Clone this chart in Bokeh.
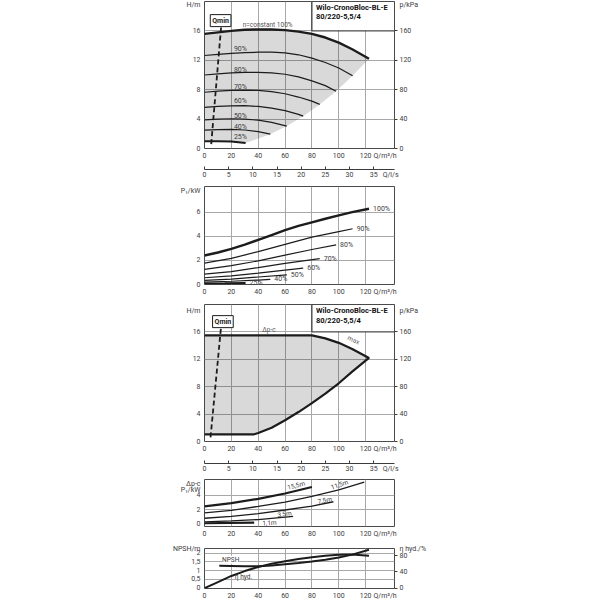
import math
from bokeh.plotting import figure
from bokeh.models import Range1d, LinearAxis, FixedTicker, Label, BoxAnnotation
from bokeh.layouts import column
from bokeh.embed import file_html
from bokeh.resources import INLINE

# ------------------------------------------------------------------ data
FLOW_TICKS = [0, 20, 40, 60, 80, 100, 120]          # Q / m³/h
FLOW_LS_TICKS = [0, 5, 10, 15, 20, 25, 30, 35]      # Q / l/s
HEAD_TICKS = [0, 4, 8, 12, 16]                      # H / m
KPA_TICKS = [0, 40, 80, 120, 160]                   # p / kPa
POWER_TICKS = [0, 2, 4, 6]                          # P1 / kW
DP_POWER_TICKS = [0, 2, 4]
NPSH_TICKS = [0, 0.5, 1, 1.5, 2]
NPSH_TICK_LABELS = ["0", "0,5", "1", "1,5", "2"]
ETA_TICKS = [0, 40, 80]

SPEED_LABELS = ["100%", "90%", "80%", "70%", "60%", "50%", "40%", "25%"]

HEAD_Q = [
    [0, 10, 20, 30, 40, 50, 60, 70, 80, 90, 100, 110, 122.5],
    [0, 10, 20, 30, 40, 50, 60, 70, 80, 90, 100, 110.3],
    [0, 10, 20, 30, 40, 50, 60, 70, 80, 90, 98],
    [0, 10, 20, 30, 40, 50, 60, 70, 80, 85.8],
    [0, 10, 20, 30, 40, 50, 60, 70, 73.5],
    [0, 10, 20, 30, 40, 50, 61.3],
    [0, 10, 20, 30, 40, 49],
    [0, 10, 20, 30.6],
]
HEAD_H = [
    [15.6, 15.8, 16.0, 16.15, 16.2, 16.2, 16.1, 15.9, 15.6, 15.1, 14.4, 13.5, 12.2],
    [12.65, 12.8, 12.95, 13.05, 13.1, 13.1, 13.0, 12.75, 12.3, 11.7, 10.95, 9.9],
    [10.0, 10.15, 10.3, 10.35, 10.35, 10.3, 10.1, 9.75, 9.2, 8.55, 7.8],
    [7.65, 7.8, 7.9, 7.95, 7.9, 7.75, 7.45, 7.0, 6.45, 6.0],
    [5.6, 5.72, 5.8, 5.82, 5.72, 5.5, 5.15, 4.65, 4.4],
    [3.9, 4.0, 4.05, 4.0, 3.85, 3.55, 3.05],
    [2.5, 2.57, 2.6, 2.52, 2.3, 1.95],
    [0.98, 1.0, 0.95, 0.76],
]
LIMIT_Q = [122.5, 110.3, 98, 85.8, 73.5, 61.3, 49, 30.6]
LIMIT_H = [12.2, 9.9, 7.8, 6.0, 4.4, 3.05, 1.95, 0.76]

POWER_Q = [
    [0, 10, 20, 30, 40, 50, 60, 70, 80, 90, 100, 110, 122.5],
    [0, 20, 40, 60, 80, 100, 110.3],
    [0, 20, 40, 60, 80, 98],
    [0, 20, 40, 60, 85.8],
    [0, 20, 40, 60, 73.5],
    [0, 20, 40, 61.3],
    [0, 20, 40, 49],
    [0, 15, 30.6],
]
POWER_P = [
    [2.4, 2.65, 2.95, 3.3, 3.7, 4.1, 4.5, 4.85, 5.15, 5.45, 5.73, 6.0, 6.28],
    [1.77, 2.17, 2.72, 3.33, 3.92, 4.38, 4.62],
    [1.25, 1.56, 1.96, 2.44, 2.9, 3.28],
    [0.86, 1.07, 1.4, 1.75, 2.15],
    [0.56, 0.72, 0.94, 1.19, 1.36],
    [0.34, 0.45, 0.62, 0.8],
    [0.19, 0.27, 0.37, 0.43],
    [0.08, 0.1, 0.13],
]

QMIN_Q = [5.0, 12.5]
QMIN_H = [0.6, 16.8]

DPC_Q = [0, 80]
DPC_H = [15.5, 15.5]
MAXC_Q = [80, 90, 100, 110, 122.5]
MAXC_H = [15.5, 15.05, 14.4, 13.5, 12.2]
LOWC_Q = [122.5, 110, 100, 90, 80, 70, 60, 50, 40, 37]
LOWC_H = [12.2, 10.2, 8.5, 7.0, 5.6, 4.3, 3.1, 2.0, 1.25, 1.05]
BASE_Q = [37, 0]
BASE_H = [1.05, 1.05]

DP_LABELS = ["15,5m", "11,5m", "7,5m", "3,5m", "1,1m"]
DP_Q = [[0, 20, 40, 60, 80],
        [0, 20, 40, 60, 80, 100, 119],
        [0, 20, 40, 60, 80, 96],
        [0, 20, 40, 66],
        [0, 37]]
DP_P = [[2.45, 2.9, 3.5, 4.25, 5.15],
        [1.55, 1.9, 2.45, 3.05, 3.85, 4.75, 5.85],
        [0.8, 1.05, 1.45, 1.95, 2.5, 3.1],
        [0.3, 0.42, 0.62, 1.05],
        [0.1, 0.18]]

NPSH_Q = [11, 20, 30, 40, 50, 60, 70, 80, 90, 100, 110, 122.5]
NPSH_M = [1.28, 1.27, 1.26, 1.26, 1.3, 1.37, 1.44, 1.52, 1.62, 1.75, 1.92, 2.2]
ETA_Q = [0, 10, 20, 30, 40, 50, 60, 70, 80, 90, 100, 110, 122.5]
ETA_PCT = [0, 15, 30, 42, 52, 60, 66, 71.5, 76, 79.5, 82, 82.5, 79.5]

# ------------------------------------------------------------------ style
FONT = "Roboto"
XMAX = 141.5
FRAME_W = 190
LEFT_B, RIGHT_B = 204, 40
INK = "#1c1c1c"
TICK_C = "#3c3c3c"
GRID_C = "#a8a8a8"
LS_PER_M3H = 1 / 3.6


def fmt(t):
    return ("%g" % t).replace(".", ",")


def style_axis(ax, standoff, tick_out=0):
    ax.axis_line_color = None
    ax.major_tick_in = 0
    ax.major_tick_out = tick_out
    ax.major_tick_line_color = None
    ax.minor_tick_line_color = None
    ax.major_label_standoff = standoff
    ax.major_label_text_font = FONT
    ax.major_label_text_font_size = "7px"
    ax.major_label_text_color = TICK_C


def set_ticks(ax, ticks, titles, labels=None, marks=False):
    """ticks with numeric labels plus extra positions carrying the axis titles"""
    labels = labels or [fmt(t) for t in ticks]
    over = dict(zip(ticks, labels))
    for pos, s in titles:
        over[pos] = s
    ax.ticker = FixedTicker(ticks=list(ticks) + [pos for pos, _ in titles],
                            minor_ticks=list(ticks) if marks else [])
    ax.major_label_overrides = over


def text(p, x, y, s, size="7px", color=TICK_C, align="left", style="normal", angle=0.0, **kw):
    p.add_layout(Label(x=x, y=y, text=s, text_font=FONT, text_font_size=size,
                       text_color=color, text_align=align, text_baseline="middle",
                       text_font_style=style, angle=angle, **kw))


def panel(frame_h, y0, y1, top, bottom, yticks, ygrid, ytitles):
    p = figure(frame_width=FRAME_W, frame_height=frame_h,
               x_range=Range1d(0, XMAX), y_range=Range1d(y0, y1),
               min_border_left=LEFT_B, min_border_right=RIGHT_B,
               min_border_top=top, min_border_bottom=bottom,
               toolbar_location=None, output_backend="svg")
    p.outline_line_color = "#4a4a4a"
    p.outline_line_width = 1
    style_axis(p.xaxis[0], 3)
    style_axis(p.yaxis[0], 4)
    set_ticks(p.xaxis[0], FLOW_TICKS, [(134.5, "Q/m³/h")])
    set_ticks(p.yaxis[0], yticks, ytitles)
    p.xgrid.ticker = FixedTicker(ticks=FLOW_TICKS[1:])
    p.ygrid.ticker = FixedTicker(ticks=ygrid)
    p.grid.grid_line_color = GRID_C
    p.grid.grid_line_width = 1
    return p


def right_axis(p, name, lo, hi, ticks, title_pos, title):
    p.extra_y_ranges = {name: Range1d(lo, hi)}
    ax = LinearAxis(y_range_name=name)
    style_axis(ax, 2, tick_out=3)
    set_ticks(ax, ticks, [(title_pos, title)], marks=True)
    ax.minor_tick_out = 3
    ax.minor_tick_in = 0
    ax.minor_tick_line_color = TICK_C
    p.add_layout(ax, "right")


def ls_panel():
    p = figure(frame_width=FRAME_W, frame_height=1,
               x_range=Range1d(0, XMAX * LS_PER_M3H), y_range=Range1d(0, 1),
               min_border_left=LEFT_B, min_border_right=RIGHT_B,
               min_border_top=3, min_border_bottom=12,
               toolbar_location=None, output_backend="svg")
    p.outline_line_color = None
    p.yaxis.visible = False
    p.grid.visible = False
    ax = p.xaxis[0]
    style_axis(ax, 1)
    set_ticks(ax, FLOW_LS_TICKS, [(38.5, "Q/l/s")], marks=True)
    ax.axis_line_color = TICK_C
    ax.minor_tick_in = 3
    ax.minor_tick_out = 0
    ax.minor_tick_line_color = TICK_C
    return p


def header(p, y_top_line, y_bottom_line):
    p.add_layout(BoxAnnotation(left=80, right=XMAX, bottom=16, top=20,
                               fill_color="white", fill_alpha=1.0,
                               line_color=INK, line_width=1, line_alpha=1.0))
    text(p, 83, y_top_line, "Wilo-CronoBloc-BL-E", size="7.5px", color="#111111", style="bold")
    text(p, 83, y_bottom_line, "80/220-5,5/4", size="7.5px", color="#111111", style="bold")


# ------------------------------------------------------------------ panel 1: H(Q)
p1 = panel(147, 0, 20, 1, 17, HEAD_TICKS, HEAD_TICKS[1:], [(19.55, "H/m")])
right_axis(p1, "kpa", 0, 200, KPA_TICKS, 195.5, "p/kPa")
region_q = HEAD_Q[0] + LIMIT_Q[1:] + HEAD_Q[-1][::-1][1:]
region_h = HEAD_H[0] + LIMIT_H[1:] + HEAD_H[-1][::-1][1:]
p1.patch(region_q, region_h, fill_color="#000000", fill_alpha=0.15, line_color=None)
for i, (q, h) in enumerate(zip(HEAD_Q, HEAD_H)):
    w = 2.4 if i == 0 else (2.0 if i == len(HEAD_Q) - 1 else 1.2)
    p1.line(q, h, line_color=INK, line_width=w)
p1.line(QMIN_Q, QMIN_H, line_color=INK, line_width=1.8, line_dash="5 3")
header(p1, 19.23, 17.97)
text(p1, 12, 17.4, "Qmin", color=INK, align="center", style="bold",
     background_fill_color="white", border_line_color=INK, padding=2)
text(p1, 47, 16.85, "n=constant 100%", size="6.5px", color="#555555", align="center")
for lab, yy in zip(SPEED_LABELS[1:], [13.5, 10.67, 8.4, 6.5, 4.47, 2.98, 1.53]):
    text(p1, 21.9, yy, lab, color="#404040")

p1b = ls_panel()

# ------------------------------------------------------------------ panel 2: P1(Q)
p2 = panel(98, 0, 8.12, 5, 14, POWER_TICKS, POWER_TICKS[1:], [(7.75, "P₁/kW")])
for i, (q, pw) in enumerate(zip(POWER_Q, POWER_P)):
    w = 2.4 if i == 0 else (2.0 if i == len(POWER_Q) - 1 else 1.2)
    p2.line(q, pw, line_color=INK, line_width=w)
    text(p2, q[-1] + 3, pw[-1], SPEED_LABELS[i], color="#404040")

# ------------------------------------------------------------------ panel 3: Δp-c field
p3 = panel(137, 0, 20, 6, 18, HEAD_TICKS, HEAD_TICKS[1:], [(19.1, "H/m")])
right_axis(p3, "kpa", 0, 200, KPA_TICKS, 191, "p/kPa")
bound_q = DPC_Q + MAXC_Q[1:] + LOWC_Q[1:] + BASE_Q[1:]
bound_h = DPC_H + MAXC_H[1:] + LOWC_H[1:] + BASE_H[1:]
p3.patch(bound_q, bound_h, fill_color="#000000", fill_alpha=0.15, line_color=None)
p3.line(bound_q, bound_h, line_color=INK, line_width=2.2)
p3.line([4.5, 12.4], [0.6, 16.9], line_color=INK, line_width=1.8, line_dash="5 3")
header(p3, 19.1, 17.62)
text(p3, 13.7, 17.5, "Qmin", color=INK, align="center", style="bold",
     background_fill_color="white", border_line_color=INK, padding=2)
text(p3, 48, 16.3, "Δp-c", size="6.5px", color="#555555", align="center")
text(p3, 111, 14.8, "max", size="6.5px", color="#555555", align="center", angle=-0.45)

p3b = ls_panel()

# ------------------------------------------------------------------ panel 4: P1 at Δp-c
p4 = panel(47, -0.35, 6.2, 4, 13, DP_POWER_TICKS, DP_POWER_TICKS[1:],
           [(5.6, "Δp-c"), (4.8, "P₁/kW")])
dp_label_pos = [(68.3, 5.35, 15), (100.6, 5.45, 19), (89.6, 3.25, 12), (59.6, 1.35, 7), (48.4, 0.12, 3)]
for i, (q, pw) in enumerate(zip(DP_Q, DP_P)):
    w = 2.2 if i in (0, len(DP_Q) - 1) else 1.3
    p4.line(q, pw, line_color=INK, line_width=w)
    lx, ly, ang = dp_label_pos[i]
    text(p4, lx, ly, DP_LABELS[i], size="6.5px", color="#404040", align="center",
         angle=math.radians(ang))

# ------------------------------------------------------------------ panel 5: NPSH / efficiency
p5 = panel(40, -0.02, 2.27, 8, 12, NPSH_TICKS, NPSH_TICKS[1:], [(2.25, "NPSH/m")])
set_ticks(p5.yaxis[0], NPSH_TICKS, [(2.25, "NPSH/m")], labels=NPSH_TICK_LABELS)
right_axis(p5, "eta", -0.8, 97.4, ETA_TICKS, 96, "η hyd./%")
p5.line(NPSH_Q, NPSH_M, line_color=INK, line_width=2.0)
p5.line(ETA_Q, ETA_PCT, y_range_name="eta", line_color=INK, line_width=2.0)
text(p5, 19.5, 1.62, "NPSH", size="6.5px", color="#404040", align="center",
     background_fill_color="white")
text(p5, 22.6, 0.63, "η hyd.", size="6.5px", color="#404040")

layout = column(p1, p1b, p2, p3, p3b, p4, p5, spacing=0)
open("out.html", "w").write(file_html(layout, INLINE))
